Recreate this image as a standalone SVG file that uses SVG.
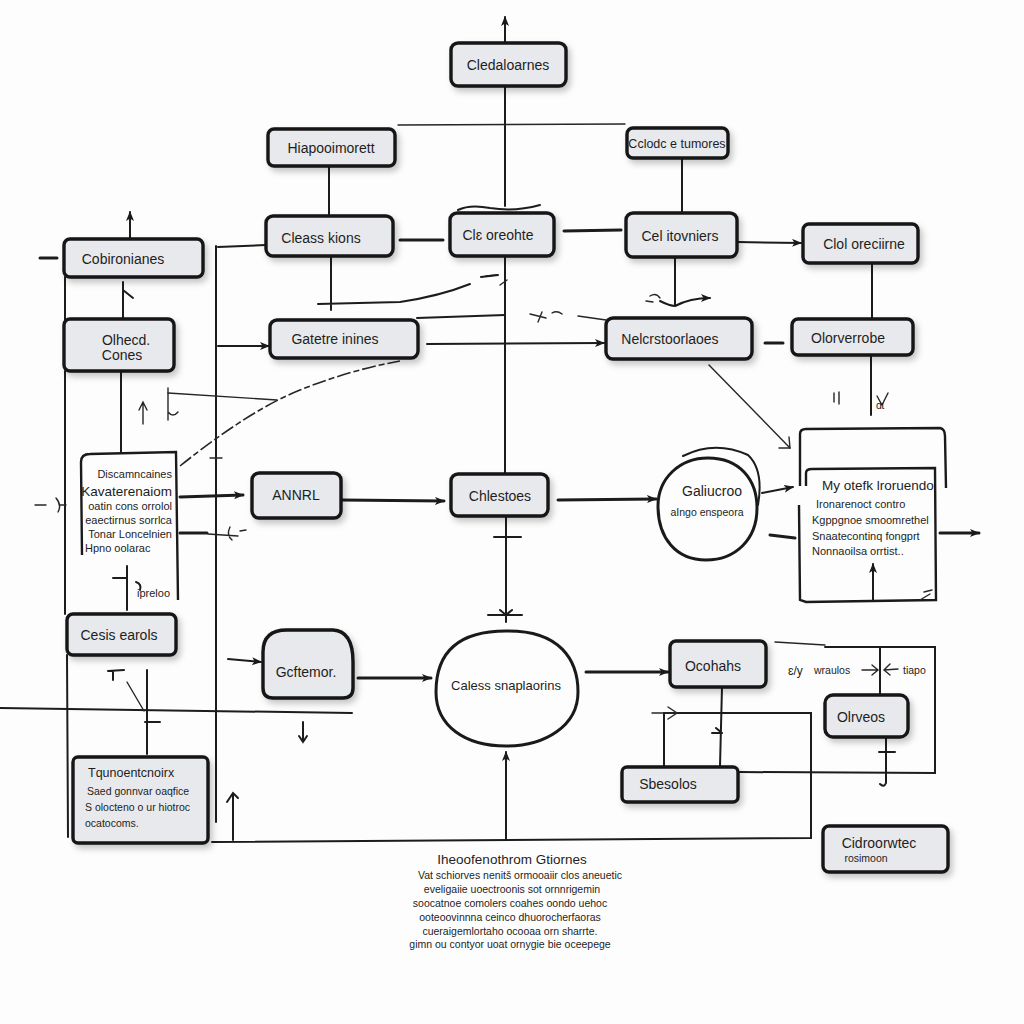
<svg xmlns="http://www.w3.org/2000/svg" width="1024" height="1024" viewBox="0 0 1024 1024">
  <defs>
    <filter id="shadow" x="-20%" y="-20%" width="150%" height="160%">
      <feDropShadow dx="3" dy="4" stdDeviation="3" flood-color="#000" flood-opacity="0.22"/>
    </filter>
    <marker id="arr" viewBox="0 0 10 8" refX="9" refY="4" markerWidth="10" markerHeight="8" markerUnits="userSpaceOnUse" orient="auto">
      <path d="M0,0 L10,4 L0,8 L2.5,4 Z" fill="#1a1a1a"/>
    </marker>
  </defs>
  <style>
    .box { fill: #e8e9ec; stroke: #161616; stroke-width: 3.4; filter: url(#shadow); }
    .frame { fill: none; stroke: #1a1a1a; stroke-width: 2.4; }
    .ln { fill: none; stroke: #1c1c1c; stroke-width: 2; stroke-linecap: round; }
    .thk { fill: none; stroke: #1c1c1c; stroke-width: 3; stroke-linecap: round; }
    .thin { fill: none; stroke: #262626; stroke-width: 1.4; stroke-linecap: round; }
    .dash { fill: none; stroke: #262626; stroke-width: 1.6; stroke-dasharray: 14 3 6 3; }
    .ar { marker-end: url(#arr); }
    text { font-family: "Liberation Sans", "DejaVu Sans", sans-serif; fill: #1e1e1e; }
    .lb { font-size: 14px; text-anchor: middle; }
    .sm { font-size: 10.5px; }
    .tx { font-size: 11px; }
  </style>

  <rect width="1024" height="1024" fill="#fdfdfd"/>

  <!-- connectors -->
  <g id="connectors">
    <!-- central spine -->
    <path class="ln ar" d="M505,42 L505,17"/>
    <path class="ln" d="M505,86 L505,206"/>
    <path class="ln" d="M505,256 L505,473"/>
    <path class="thin" d="M486,276 L497,275 M500,285 L507,280"/>
    <path class="ln" d="M506,516 L506,622"/>
    <path class="ln" d="M494,537 L521,537 M488,615 L522,615 M500,610 L506,615 L512,610"/>
    <path class="ln ar" d="M506,840 L506,752"/>

    <!-- upper row -->
    <path class="thin" d="M398,125 L625,124"/>
    <path class="ln" d="M329,166 L329,214"/>
    <path class="ln" d="M682,158 L682,212"/>
    <path class="thk" d="M400,240 L443,240"/>
    <path class="thk" d="M564,231 L621,230"/>
    <path class="ln ar" d="M737,242 L801,243"/>
    <path class="ln" d="M872,263 L872,319"/>
    <path class="ln" d="M218,247 L266,245"/>
    <path class="thk" d="M40,258 L57,258"/>
    <path class="ln ar" d="M130,239 L130,212"/>
    <path class="ln" d="M123,319 L123,282 M123,290 L133,298"/>

    <!-- left frame lines -->
    <path class="ln" d="M65,277 L65,320 M65,371 L65,614 M67,655 L68,837"/>
    <path class="ln" d="M216,246 L216,822"/>
    <path class="ln" d="M121,371 L121,453"/>
    <path class="thin" d="M35,505 L46,505 M56,498 Q62,505 58,512 M60,505 L66,505"/>
    <path class="thin" d="M210,458 L222,458"/>

    <!-- middle links -->
    <path class="ln" d="M331,256 L331,310 M318,304 L400,302 Q440,296 470,284"/>
    <path class="ln" d="M481,277 L498,275"/>
    <path class="ln" d="M417,318 L505,315"/>
    <path class="thin" d="M530,314 L546,318 M538,322 L542,312 M552,313 Q557,310 562,314 M578,316 L606,320"/>
    <path class="ln ar" d="M427,344 L604,343"/>
    <path class="ln ar" d="M218,346 L269,346"/>
    <path class="dash" d="M180,466 Q250,410 300,390 Q350,370 400,361"/>
    <path class="thin" d="M168,393 L277,400"/>
    <path class="thin" d="M168,388 L168,420 M168,412 Q173,418 178,412 M143,424 L143,404 M139,410 L143,402 L147,410"/>
    <path class="ln" d="M675,257 L675,305"/>
    <path class="ln ar" d="M660,301 Q670,306 675,306 Q690,298 710,298"/>
    <path class="thin" d="M650,296 Q656,292 660,298 M646,301 L653,302"/>
    <path class="thk" d="M765,343 L783,343"/>
    <path class="ln" d="M871,355 L871,415"/>
    <path class="thin" d="M877,396 L882,405 L888,393 M834,393 L834,402 M839,392 L839,404"/>
    <path class="thin" d="M709,365 L790,448"/>
    <path class="thin" d="M779,448 L790,448 L789,437"/>

    <!-- row with ANNRL -->
    <path class="thk ar" d="M180,497 L243,495"/>
    <path class="thk ar" d="M341,500 L444,501"/>
    <path class="thk ar" d="M558,500 L656,499"/>
    <path class="ln ar" d="M762,493 L793,487"/>
    <path class="thk" d="M770,535 L795,538"/>
    <path class="thk ar" d="M940,533 L979,533"/>
    <path class="thk" d="M180,533 L207,533"/>
    <path class="thin" d="M208,534 L238,536 M230,527 Q226,535 232,540 M240,531 L246,530"/>
    <path class="ln" d="M127,566 L127,610 M113,578 L127,578 M136,582 Q142,584 140,590"/>

    <!-- lower left -->
    <path class="ln" d="M0,708 L352,713"/>
    <path class="ln" d="M147,670 L147,754 M145,722 L160,722"/>
    <path class="thin" d="M127,682 L144,711"/>
    <path class="ln" d="M108,671 L124,670 M113,671 L113,680"/>
    <path class="ln ar" d="M228,659 L261,662"/>
    <path class="thk ar" d="M358,678 L431,678"/>
    <path class="thk ar" d="M586,672 L668,672"/>
    <path class="ln" d="M303,722 L303,742 M299,736 L303,742 L307,736"/>
    <path class="ln" d="M233,840 L233,795 M227,802 L233,793 L238,798"/>

    <!-- bottom frame -->
    <path class="ln" d="M212,842 L811,838 L811,713 L664,713 L664,766"/>
    <path class="thin" d="M652,713 L678,713 M668,707 L677,713 L668,719"/>
    <path class="ln" d="M722,687 L720,766 M712,733 L722,733 M716,728 L722,733"/>
    <path class="thin" d="M775,642 L825,645"/>
    <path class="ln" d="M825,647 L935,647 L935,773 L739,772"/>
    <path class="ln" d="M880,647 L880,695"/>
    <path class="thin" d="M862,670 L878,670 M872,665 L878,670 L872,675 M884,670 L898,669 M890,664 L884,670 L890,675"/>
    <path class="ln" d="M886,737 L886,783 Q884,788 880,784 M879,752 L895,752"/>
  </g>

  <!-- nodes -->
  <g id="n-cledaloarnes">
    <rect class="box" x="451" y="43" width="115" height="43" rx="7"/>
    <text class="lb" x="508" y="70">Cledaloarnes</text>
  </g>
  <g id="n-hiapooimorett">
    <rect class="box" x="268" y="129" width="127" height="37" rx="6"/>
    <text class="lb" x="331" y="153">Hiapooimorett</text>
  </g>
  <g id="n-cclodc">
    <rect class="box" x="627" y="128" width="101" height="30" rx="6"/>
    <text class="lb" x="677" y="148" style="font-size:12.5px">Cclodc e tumores</text>
  </g>
  <g id="n-cleass">
    <rect class="box" x="266" y="216" width="127" height="40" rx="7"/>
    <text class="lb" x="321" y="243">Cleass kions</text>
  </g>
  <g id="n-cls">
    <rect class="box" x="450" y="213" width="104" height="43" rx="7"/>
    <path class="ln" d="M458,210 Q470,204 490,208 Q515,212 540,205"/>
    <text class="lb" x="498" y="240">Clɛ oreohte</text>
  </g>
  <g id="n-cel">
    <rect class="box" x="626" y="213" width="111" height="44" rx="7"/>
    <text class="lb" x="680" y="241">Cel itovniers</text>
  </g>
  <g id="n-clol">
    <rect class="box" x="803" y="224" width="115" height="39" rx="6"/>
    <text class="lb" x="864" y="249">Clol oreciirne</text>
  </g>
  <g id="n-cobironianes">
    <rect class="box" x="64" y="239" width="139" height="38" rx="6"/>
    <text class="lb" x="123" y="264">Cobironianes</text>
  </g>
  <g id="n-olhecd">
    <rect class="box" x="64" y="319" width="110" height="52" rx="6"/>
    <text class="lb" x="126" y="345">Olhecd.</text>
    <text class="lb" x="122" y="360">Cones</text>
  </g>
  <g id="n-gatetre">
    <rect class="box" x="270" y="320" width="148" height="38" rx="7"/>
    <text class="lb" x="335" y="344">Gatetre inines</text>
  </g>
  <g id="n-nelcrs">
    <rect class="box" x="606" y="318" width="146" height="41" rx="7"/>
    <text class="lb" x="670" y="344">Nelcrstoorlaoes</text>
  </g>
  <g id="n-olorverrobe">
    <rect class="box" x="792" y="319" width="121" height="36" rx="6"/>
    <text class="lb" x="848" y="343">Olorverrobe</text>
  </g>

  <g id="n-discamncaines">
    <path class="frame" d="M82,555 L81,462 Q81,454 90,454 L176,452 L178,600"/>
    <g class="tx" text-anchor="end">
      <text x="172" y="478">Discamncaines</text>
      <text x="172" y="496" style="font-size:13.5px">Kavaterenaiom</text>
      <text x="172" y="510">oatin cons orrolol</text>
      <text x="172" y="524">eaectirnus sorrlca</text>
      <text x="172" y="538">Tonar Loncelnien</text>
    </g>
    <text class="tx" x="85" y="552">Hpno oolarac</text>
    <text class="tx" x="137" y="597">ipreloo</text>
  </g>

  <g id="n-annrl">
    <rect class="box" x="252" y="473" width="89" height="45" rx="7"/>
    <text class="lb" x="296" y="500">ANNRL</text>
  </g>
  <g id="n-chlestoes">
    <rect class="box" x="451" y="474" width="97" height="42" rx="7"/>
    <text class="lb" x="500" y="501">Chlestoes</text>
  </g>
  <g id="n-galiucroo">
    <path class="frame" style="stroke-width:3" d="M708,458 C740,458 757,480 757,508 C757,540 735,560 706,560 C676,560 658,538 658,506 C658,478 680,458 708,458 Z"/>
    <path class="ln" d="M683,456 Q715,440 748,455 Q764,470 758,505"/>
    <text class="lb" x="712" y="496">Galiucroo</text>
    <text class="sm" x="707" y="516" text-anchor="middle">aIngo enspeora</text>
  </g>
  <g id="n-my-otefk">
    <path class="frame" d="M800,486 L800,434 Q800,429 806,429 L940,428 Q945,429 945,436 L946,488"/>
    <path class="frame" d="M806,486 L806,473 Q806,469 812,469 L935,468 L936,600 L806,602 L800,600 L799,505"/>
    <path class="thin" d="M920,600 L930,594 M924,592 L932,590"/>
    <path class="ln ar" d="M873,600 L873,564"/>
    <text x="822" y="490" style="font-size:13.5px">My otefk lroruendo</text>
    <g class="tx">
      <text x="816" y="508">Ironarenoct contro</text>
      <text x="812" y="524">Kgppgnoe smoomrethel</text>
      <text x="812" y="540">Snaatecontinq fongprt</text>
      <text x="812" y="555">Nonnaoilsa orrtist..</text>
    </g>
  </g>

  <g id="n-cesis">
    <rect class="box" x="67" y="614" width="109" height="41" rx="6"/>
    <text class="lb" x="119" y="640">Cesis earols</text>
  </g>
  <g id="n-gcftemor">
    <path class="box" d="M287,630 L333,630 Q353,631 353,662 L353,688 Q353,698 343,698 L273,698 Q263,698 263,688 L263,652 Q263,630 287,630 Z"/>
    <text class="lb" x="306" y="677">Gcftemor.</text>
  </g>
  <g id="n-caless">
    <path class="frame" style="stroke-width:3" d="M506,631 C560,630 578,660 578,692 C578,726 545,746 506,746 C465,746 436,726 436,692 C436,656 454,631 506,631 Z"/>
    <text class="lb" x="506" y="690" style="font-size:13px">Caless snaplaorins</text>
  </g>
  <g id="n-ocohahs">
    <rect class="box" x="670" y="641" width="96" height="46" rx="6"/>
    <text class="lb" x="713" y="671">Ocohahs</text>
  </g>
  <g id="n-olrveos">
    <rect class="box" x="825" y="695" width="83" height="42" rx="8"/>
    <text class="lb" x="861" y="722">Olrveos</text>
  </g>
  <g id="n-sbesolos">
    <rect class="box" x="622" y="767" width="116" height="35" rx="5"/>
    <text class="lb" x="668" y="789">Sbesolos</text>
  </g>
  <g id="n-cidroorwtec">
    <rect class="box" x="823" y="826" width="125" height="46" rx="6"/>
    <text class="lb" x="879" y="848">Cidroorwtec</text>
    <text x="866" y="862" class="sm" text-anchor="middle">rosimoon</text>
  </g>
  <g id="n-tqunoentc">
    <rect class="box" x="73" y="757" width="135" height="86" rx="5"/>
    <text x="88" y="777" style="font-size:12.5px">Tqunoentcnoirx</text>
    <g class="sm">
      <text x="87" y="795">Saed gonnvar oaqfice</text>
      <text x="85" y="811">S olocteno o ur hiotroc</text>
      <text x="85" y="827">ocatocoms.</text>
    </g>
  </g>

  <!-- side labels -->
  <g id="labels" class="sm">
    <text x="788" y="675" style="font-size:12px">ɛ/y</text>
    <text x="814" y="674">wraulos</text>
    <text x="903" y="674">tiapo</text>
    <text x="876" y="409">ɑɩ</text>
  </g>

  <!-- notes under the chart -->
  <g id="notes">
    <text x="512" y="864" text-anchor="middle" style="font-size:13.5px">Iheoofenothrom Gtiornes</text>
    <g class="sm" text-anchor="middle">
      <text x="520" y="879">Vat schiorves nenitš ormooaiir clos aneuetic</text>
      <text x="512" y="893">eveligaiie uoectroonis sot ornnrigemin</text>
      <text x="510" y="907">soocatnoe comolers coahes oondo uehoc</text>
      <text x="510" y="921">ooteoovinnna ceinco dhuorocherfaoras</text>
      <text x="510" y="935">cueraigemlortaho ocooaa orn sharrte.</text>
      <text x="510" y="948">gimn ou contyor uoat ornygie bie oceepege</text>
    </g>
  </g>
</svg>
